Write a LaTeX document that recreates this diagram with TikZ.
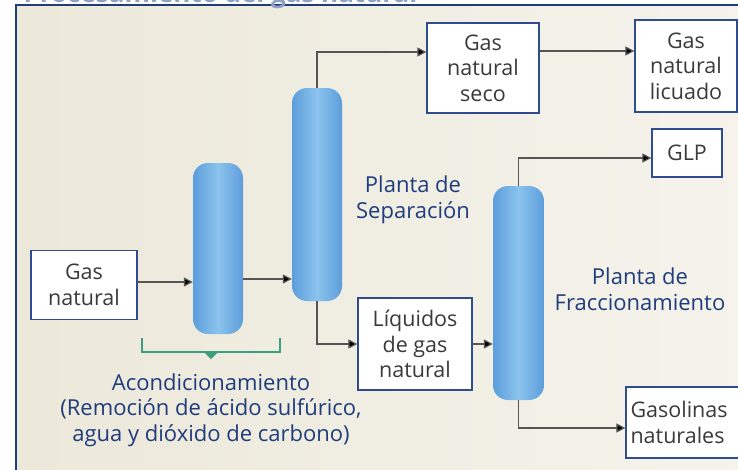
\documentclass[tikz,border=0pt]{standalone}
\usepackage{fontspec}
\setmainfont{Open Sans}
\usetikzlibrary{arrows.meta}
\definecolor{frameblue}{HTML}{1F3C7C}
\definecolor{boxblue}{HTML}{2E4C8E}
\definecolor{boxtext}{HTML}{3A3A3A}
\definecolor{labelblue}{HTML}{1F3D7D}
\definecolor{titleblue}{HTML}{8EA2C8}
\definecolor{colblue}{HTML}{5C9EDB}
\definecolor{collight}{HTML}{8CC3EE}
\definecolor{linegray}{HTML}{555555}
\definecolor{bracketgreen}{HTML}{3E9E80}
\definecolor{bgleft}{HTML}{ECE8DA}
\definecolor{bgright}{HTML}{F5F3EC}
\tikzset{box/.style={draw=boxblue, line width=1.3pt, fill=white, text=boxtext, align=center, inner sep=2pt, font=\fontsize{21.5}{25.5}\selectfont},
  column/.style={rounded corners=15pt, left color=colblue, right color=colblue, middle color=collight},
  flow/.style={draw=linegray, line width=1.2pt, -{Triangle[length=9pt,width=9pt,fill=black]}},
  plantlabel/.style={text=labelblue, align=center, font=\fontsize{22}{25.5}\selectfont}}

\begin{document}
\begin{tikzpicture}[x=1pt,y=-1pt]
   \useasboundingbox (0,0) rectangle (738,469);
   \clip (0,0) rectangle (738,469);
   % fondo y marco
   \shade[left color=bgleft, right color=bgright] (16,5) rectangle (760,480);
   \draw[frameblue, line width=2pt] (16,480) -- (16,5) -- (760,5);
   \node[anchor=base west, text=titleblue, font=\fontsize{26}{30}\selectfont\bfseries] (title) at (20,2) {Procesamiento del gas natural};
   % columnas
   \node[column, minimum width=50pt, minimum height=171pt] (c1) at (218,248.5) {};
   \node[column, minimum width=50pt, minimum height=213pt] (c2) at (317,194.5) {};
   \node[column, minimum width=51pt, minimum height=214pt] (c3) at (518.5,293) {};
   % cajas
   \node[box, minimum width=106pt, minimum height=69pt] (gas) at (84,285) {Gas\\natural};
   \node[box, minimum width=112pt, minimum height=90pt] (seco) at (483,68) {Gas\\natural\\seco};
   \node[box, minimum width=102pt, minimum height=92pt] (lic) at (686,66) {Gas\\natural\\licuado};
   \node[box, minimum width=70pt, minimum height=48pt] (glp) at (687,153) {GLP};
   \node[box, minimum width=114pt, minimum height=92pt] (liq) at (415,344) {Líquidos\\de gas\\natural};
   \node[box, minimum width=124pt, minimum height=71pt, text width=115pt, align=left] (gasol) at (688,422.5) {Gasolinas\\naturales};
   % flujos
   \draw[flow] ([yshift=3pt]gas.east) -- ([yshift=3pt]gas.east -| c1.west);
   \draw[flow] ([yshift=-30.5pt]c1.east) -- ([yshift=-30.5pt]c1.east -| c2.west);
   \draw[flow] (c2.north) |- ([yshift=16pt]seco.west);
   \draw[flow] ([yshift=17pt]seco.east) -- ([yshift=17pt]seco.east -| lic.west);
   \draw[flow] (c2.south) |- (liq.west);
   \draw[flow] (liq.east) -- (liq.east -| c3.west);
   \draw[flow] (c3.north) |- ([yshift=-5pt]glp.west);
   \draw[flow] (c3.south) |- ([yshift=-5.5pt]gasol.west);
   % acondicionamiento
   \draw[bracketgreen, line width=2pt] (142,338) -- (142,352) -- (280,352) -- (280,338);
   \fill[bracketgreen] (204,352) -- (218,352) -- (211,359) -- cycle;
   \node[plantlabel] (acond) at (211,410) {Acondicionamiento\\(Remoción de ácido sulfúrico,\\agua y dióxido de carbono)};
   \node[plantlabel] (sep) at (413,200) {Planta de\\Separación};
   \node[plantlabel] (frac) at (640,289) {Planta de\\Fraccionamiento};
\end{tikzpicture}
\end{document}
